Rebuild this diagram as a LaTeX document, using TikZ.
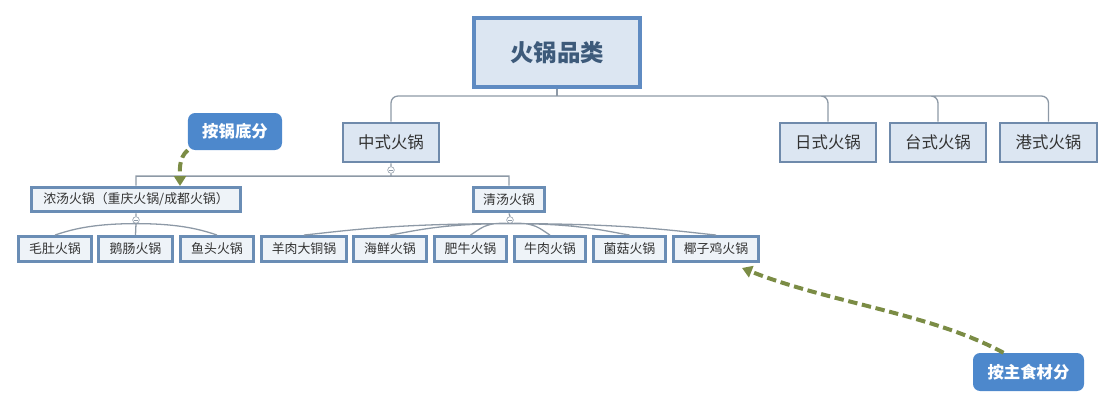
\documentclass[tikz,border=0pt]{standalone}
\usepackage{fontspec}
\setmainfont{Noto Sans CJK SC}
\usetikzlibrary{arrows.meta}
\definecolor{rootline}{HTML}{5F8BC2}
\definecolor{rootfill}{HTML}{DCE6F2}
\definecolor{roottext}{HTML}{3D5A7A}
\definecolor{boxline}{HTML}{6F8AAB}
\definecolor{subline}{HTML}{6A8DB5}
\definecolor{subfill}{HTML}{EEF3F8}
\definecolor{connline}{HTML}{8D99A6}
\definecolor{notefill}{HTML}{4D88CC}
\definecolor{arrowgreen}{HTML}{7B8C45}
\begin{document}
\begin{tikzpicture}[x=0.03cm,y=0.03cm]
    \tikzstyle{every node}=[inner sep=0pt,text=black!80];
    \tikzstyle{rootbox}=[draw=rootline,fill=rootfill,line width=3.8pt,minimum width=4.98cm,minimum height=2.07cm,font=\fontsize{20}{24}\selectfont\bfseries,text=roottext];
    \tikzstyle{kind}=[draw=boxline,fill=rootfill,line width=1.6pt,minimum width=2.9cm,minimum height=1.19cm,font=\fontsize{14}{17}\selectfont];
    \tikzstyle{pot}=[draw=subline,fill=subfill,line width=2.8pt,minimum height=0.74cm,font=\fontsize{11}{13}\selectfont];
    \tikzstyle{fold}=[draw=connline,fill=white,circle,minimum size=0.2cm,line width=0.5pt,
      path picture={\draw[connline,line width=0.5pt] ([xshift=-1.5pt]path picture bounding box.center) -- ([xshift=1.5pt]path picture bounding box.center);}];
    \tikzstyle{conn}=[draw=connline,line width=1.1pt];
    \tikzstyle{note}=[fill=notefill,rounded corners=6pt,text=white,font=\fontsize{14}{17}\selectfont\bfseries];
    \tikzstyle{hint}=[draw=arrowgreen,line width=3.4pt,dash pattern=on 8pt off 4pt,-{Triangle[length=0.3cm,width=0.36cm]}];
    \useasboundingbox (0,0) rectangle (1114,408);
    %\node (name) at (x,y) [style] {text};
    \node[rootbox] (root) at (557,355.5) {火锅品类};
    \node[kind] (zs) at (391,265.5) {中式火锅};
    \node[kind] (rs) at (828,265.5) {日式火锅};
    \node[kind] (ts) at (938,265.5) {台式火锅};
    \node[kind] (gs) at (1048.5,265.5) {港式火锅};
    \node[pot,minimum width=6.28cm] (nt) at (136,208.5) {浓汤火锅（重庆火锅/成都火锅）};
    \node[pot,minimum width=2.14cm] (qt) at (509,208.5) {清汤火锅};
    \node[pot,minimum width=2.2cm] (md) at (55,159) {毛肚火锅};
    \node[pot,minimum width=2.23cm] (ec) at (135.5,159) {鹅肠火锅};
    \node[pot,minimum width=2.2cm] (yt) at (217,159) {鱼头火锅};
    \node[pot,minimum width=2.56cm] (yr) at (304,159) {羊肉大铜锅};
    \node[pot,minimum width=2.2cm] (hx) at (390,159) {海鲜火锅};
    \node[pot,minimum width=2.17cm] (fn) at (470.5,159) {肥牛火锅};
    \node[pot,minimum width=2.14cm] (nr) at (550,159) {牛肉火锅};
    \node[pot,minimum width=2.17cm] (jg) at (629.5,159) {菌菇火锅};
    \node[pot,minimum width=2.56cm] (yz) at (716,159) {椰子鸡火锅};
    \node[fold] (fzs) at (391,238) {};
    \node[fold] (fnt) at (136,188) {};
    \node[fold] (fqt) at (510,188) {};
    \node[note,minimum width=2.82cm,minimum height=1.11cm] (cb1) at (235,276.5) {按锅底分};
    \node[note,minimum width=3.33cm,minimum height=1.14cm] (cb2) at (1028.5,36) {按主食材分};
    \coordinate (rj) at (557,312);
    \coordinate (t1) at (180,222);
    \coordinate (t2) at (742,140);
    \draw[conn] (root.south) -- (rj);
    \draw[conn,rounded corners=6pt] (zs.north) |- (rj)
    (rs.north) |- (rj)
    (ts.north) |- (rj)
    (gs.north) |- (rj);
    \draw[conn] (zs.south) -- (fzs.north)
    (fzs.south) -- ++(0,-2.5) -| (nt.north)
    (fzs.south) -- ++(0,-2.5) -| (qt.north)
    (nt.south) -- (fnt.north)
    (qt.south) -- (fqt.north);
    \draw[conn] (fnt.south) -- (ec.north)
    (fnt.south) .. controls +(-45,0) and +(15,5) .. (md.north)
    (fnt.south) .. controls +(45,0) and +(-15,5) .. (yt.north)
    (fqt.south) .. controls +(-120,0) and +(40,4) .. (yr.north)
    (fqt.south) .. controls +(-70,0) and +(25,4) .. (hx.north)
    (fqt.south) .. controls +(-25,2) and +(10,6) .. (fn.north)
    (fqt.south) .. controls +(25,2) and +(-10,6) .. (nr.north)
    (fqt.south) .. controls +(70,0) and +(-25,4) .. (jg.north)
    (fqt.south) .. controls +(120,0) and +(-40,4) .. (yz.north);
    \draw[hint] (cb1.south west) .. controls (178,250) and (180,235) .. (t1);
    \draw[hint] ([xshift=-0.75cm]cb2.north) .. controls (930,95) and (830,105) .. (t2);
  \end{tikzpicture}
\end{document}
